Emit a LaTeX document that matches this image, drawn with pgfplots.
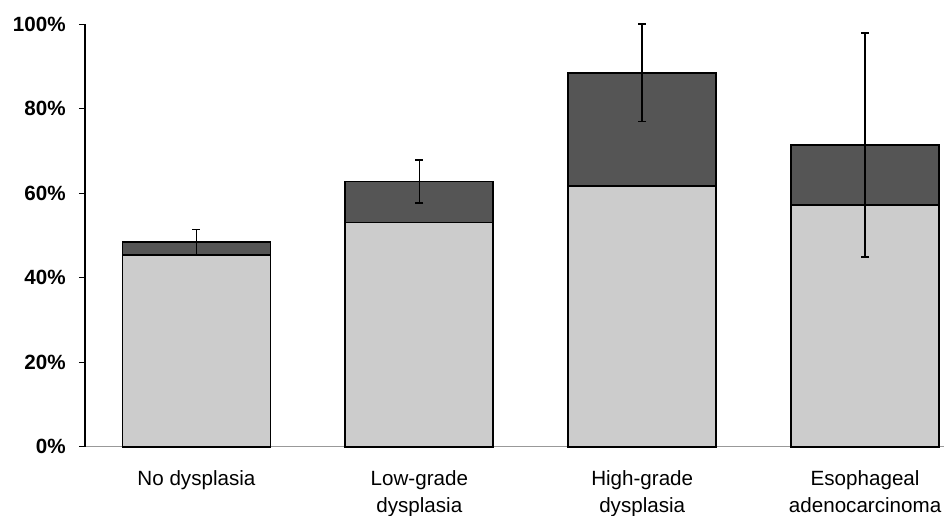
\documentclass[border=0pt]{standalone}
\usepackage{fontspec}
\setmainfont{Liberation Sans}
\usepackage{pgfplots}
\pgfplotsset{compat=1.18}
\definecolor{lightbar}{HTML}{CCCCCC}
\definecolor{darkbar}{HTML}{555555}
\begin{document}
\begin{tikzpicture}
\begin{axis}[
  at={(0,0)}, anchor=south west,
  scale only axis, width=429.5pt, height=211.2pt,
  xmin=-0.5, xmax=3.354, ymin=0, ymax=100,
  clip=false,
  axis x line*=bottom, axis y line*=left,
  x axis line style={draw=gray!80, line width=0.6pt},
  y axis line style={draw=black, line width=0.6pt},
  xtick={0,1,2,3},
  xticklabels={No dysplasia, Low-grade\\dysplasia, High-grade\\dysplasia, Esophageal\\adenocarcinoma},
  xticklabel style={align=center, font=\fontsize{10.3}{13.75}\selectfont, anchor=north, inner sep=0pt, yshift=-8.5pt},
  x tick style={draw=none},
  ytick={0,20,40,60,80,100},
  yticklabels={0\%,20\%,40\%,60\%,80\%,100\%},
  yticklabel style={font=\fontsize{10.3}{13.75}\selectfont\bfseries, anchor=east, inner sep=0pt, xshift=-6.5pt},
  y tick style={draw=black, line width=0.6pt},
  tick align=outside, major tick length=3pt,
  /pgf/number format/assume math mode=true,
]
\addplot[ybar, bar width=74pt, bar shift=0pt, fill=darkbar, draw=black, line width=0.9pt]
  coordinates {(0,48.4) (1,62.8) (2,88.5) (3,71.4)};
\addplot[ybar, bar width=74pt, bar shift=0pt, fill=lightbar, draw=black, line width=0.9pt]
  coordinates {(0,45.3) (1,53.1) (2,61.8) (3,57.2)};
\addplot[draw=none, mark=none,
  error bars/.cd, y dir=both, y explicit,
  error bar style={draw=black, line width=0.8pt},
  error mark=-,
  error mark options={rotate=90, draw=black, mark size=2pt, line width=0.8pt}]
  coordinates {(0,48.4) +- (0,3.0) (1,62.8) +- (0,5.1) (2,88.5) +- (0,11.5) (3,71.4) +- (0,26.5)};
\end{axis}
\pgfresetboundingbox
\path[use as bounding box] (-42.5pt,-34.15pt) rectangle (429.5pt,223.35pt);
\end{tikzpicture}
\end{document}
